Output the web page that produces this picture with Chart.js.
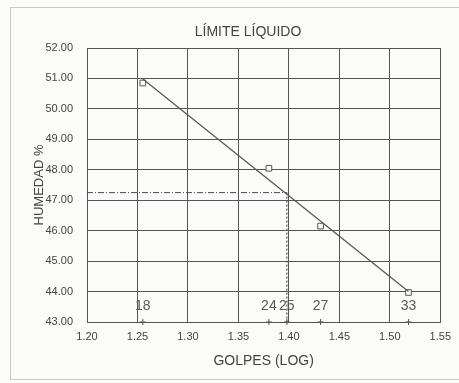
<!DOCTYPE html>
<html>
<head>
<meta charset="utf-8">
<script src="https://cdn.jsdelivr.net/npm/chart.js@4.4.1/dist/chart.umd.min.js"></script>
<style>
  body { margin: 0; background: #fbfbfa; }
  #wrap { position: relative; width: 459px; height: 383px; }
  #frame { position: absolute; left: 10px; top: 7px; width: 460px; height: 373px; border: 1px solid #c8c8c8; box-sizing: border-box; pointer-events: none; }
</style>
</head>
<body>
<div id="wrap">
  <canvas id="llChart" width="459" height="383"></canvas>
  <div id="frame"></div>
</div>
<script>
// datos del ensayo
const golpes = [18, 24, 27, 33];
const logGolpes = [1.2553, 1.3802, 1.4314, 1.5185];
const humedad = [50.85, 48.05, 46.15, 43.97];

// linea de tendencia (extremos)
const tendX = [1.2553, 1.5185];
const tendY = [50.98, 44.0];

// limite liquido a 25 golpes
const llGolpes = 25;
const llX = 1.398;
const llY = 47.25;

const xTicks = [1.20, 1.25, 1.30, 1.35, 1.40, 1.45, 1.50, 1.55];
const yTicks = [43, 44, 45, 46, 47, 48, 49, 50, 51, 52];

const textColor = "#444";
const gridColor = "#555";
const fuente = "'Liberation Sans', Arial, sans-serif";

const labelPlugin = {
  id: "etiquetas",
  afterDraw(chart) {
    const ctx = chart.ctx;
    const xs = chart.scales.x;
    const ys = chart.scales.y;
    ctx.save();
    ctx.fillStyle = textColor;
    ctx.font = "14px " + fuente;
    ctx.textAlign = "center";
    ctx.textBaseline = "middle";
    ctx.fillText("LÍMITE LÍQUIDO", 248, 32);

    const all = logGolpes.map((v, i) => [v, golpes[i]]);
    all.push([llX, llGolpes]);
    ctx.font = "14px " + fuente;
    ctx.fillStyle = "#5a5a5a";
    ctx.strokeStyle = "#555";
    ctx.lineWidth = 1;
    all.forEach(([v, g]) => {
      const px = xs.getPixelForValue(v);
      const py = ys.getPixelForValue(43);
      ctx.fillText(String(g), px, py - 16);
      ctx.beginPath();
      ctx.moveTo(px - 3, py); ctx.lineTo(px + 3, py);
      ctx.moveTo(px, py - 3); ctx.lineTo(px, py + 3);
      ctx.stroke();
    });
    ctx.restore();
  }
};

const ctx = document.getElementById("llChart");
new Chart(ctx, {
  type: "scatter",
  data: {
    datasets: [
      {
        label: "Tendencia",
        data: tendX.map((x, i) => ({ x: x, y: tendY[i] })),
        showLine: true,
        borderColor: "#555",
        borderWidth: 1.2,
        pointRadius: 0
      },
      {
        label: "Humedad",
        data: logGolpes.map((x, i) => ({ x: x, y: humedad[i] })),
        pointStyle: "rect",
        pointRadius: 4,
        pointBorderWidth: 1,
        pointBorderColor: "#555",
        pointBackgroundColor: "#fff"
      },
      {
        label: "LL horizontal",
        data: [{ x: 1.2, y: llY }, { x: llX, y: llY }],
        showLine: true,
        borderColor: "#3a4a6a",
        borderWidth: 1,
        borderDash: [6, 2, 1, 2],
        pointRadius: 0
      },
      {
        label: "LL vertical",
        data: [{ x: llX, y: llY }, { x: llX, y: 43 }],
        showLine: true,
        borderColor: "#555",
        borderWidth: 1.2,
        borderDash: [2, 2],
        pointRadius: 0
      }
    ]
  },
  options: {
    responsive: false,
    animation: false,
    layout: { padding: { top: 48, right: 17, left: 0, bottom: 0 } },
    plugins: {
      legend: { display: false },
      tooltip: { enabled: false }
    },
    scales: {
      x: {
        type: "linear",
        min: 1.2,
        max: 1.55,
        afterFit: (s) => { s.height = 61; },
        afterBuildTicks: (s) => { s.ticks = xTicks.map(v => ({ value: v })); },
        ticks: {
          color: textColor,
          font: { size: 11, family: fuente },
          padding: 8,
          maxRotation: 0,
          callback: (v) => Number(v).toFixed(2)
        },
        grid: { color: gridColor, lineWidth: 1, drawTicks: false },
        border: { color: gridColor },
        title: {
          display: true,
          text: "GOLPES (LOG)",
          color: textColor,
          font: { size: 14, family: fuente },
          padding: { top: 4, bottom: 13 }
        }
      },
      y: {
        type: "linear",
        min: 43,
        max: 52,
        afterFit: (s) => { s.width = 87; },
        afterBuildTicks: (s) => { s.ticks = yTicks.map(v => ({ value: v })); },
        ticks: {
          color: textColor,
          font: { size: 11, family: fuente },
          padding: 14,
          callback: (v) => Number(v).toFixed(2)
        },
        grid: { color: gridColor, lineWidth: 1, drawTicks: false },
        border: { color: gridColor },
        title: {
          display: true,
          text: "HUMEDAD %",
          color: textColor,
          font: { size: 13, family: fuente },
          padding: { top: 32, bottom: 0 }
        }
      }
    }
  },
  plugins: [labelPlugin]
});
</script>
</body>
</html>
